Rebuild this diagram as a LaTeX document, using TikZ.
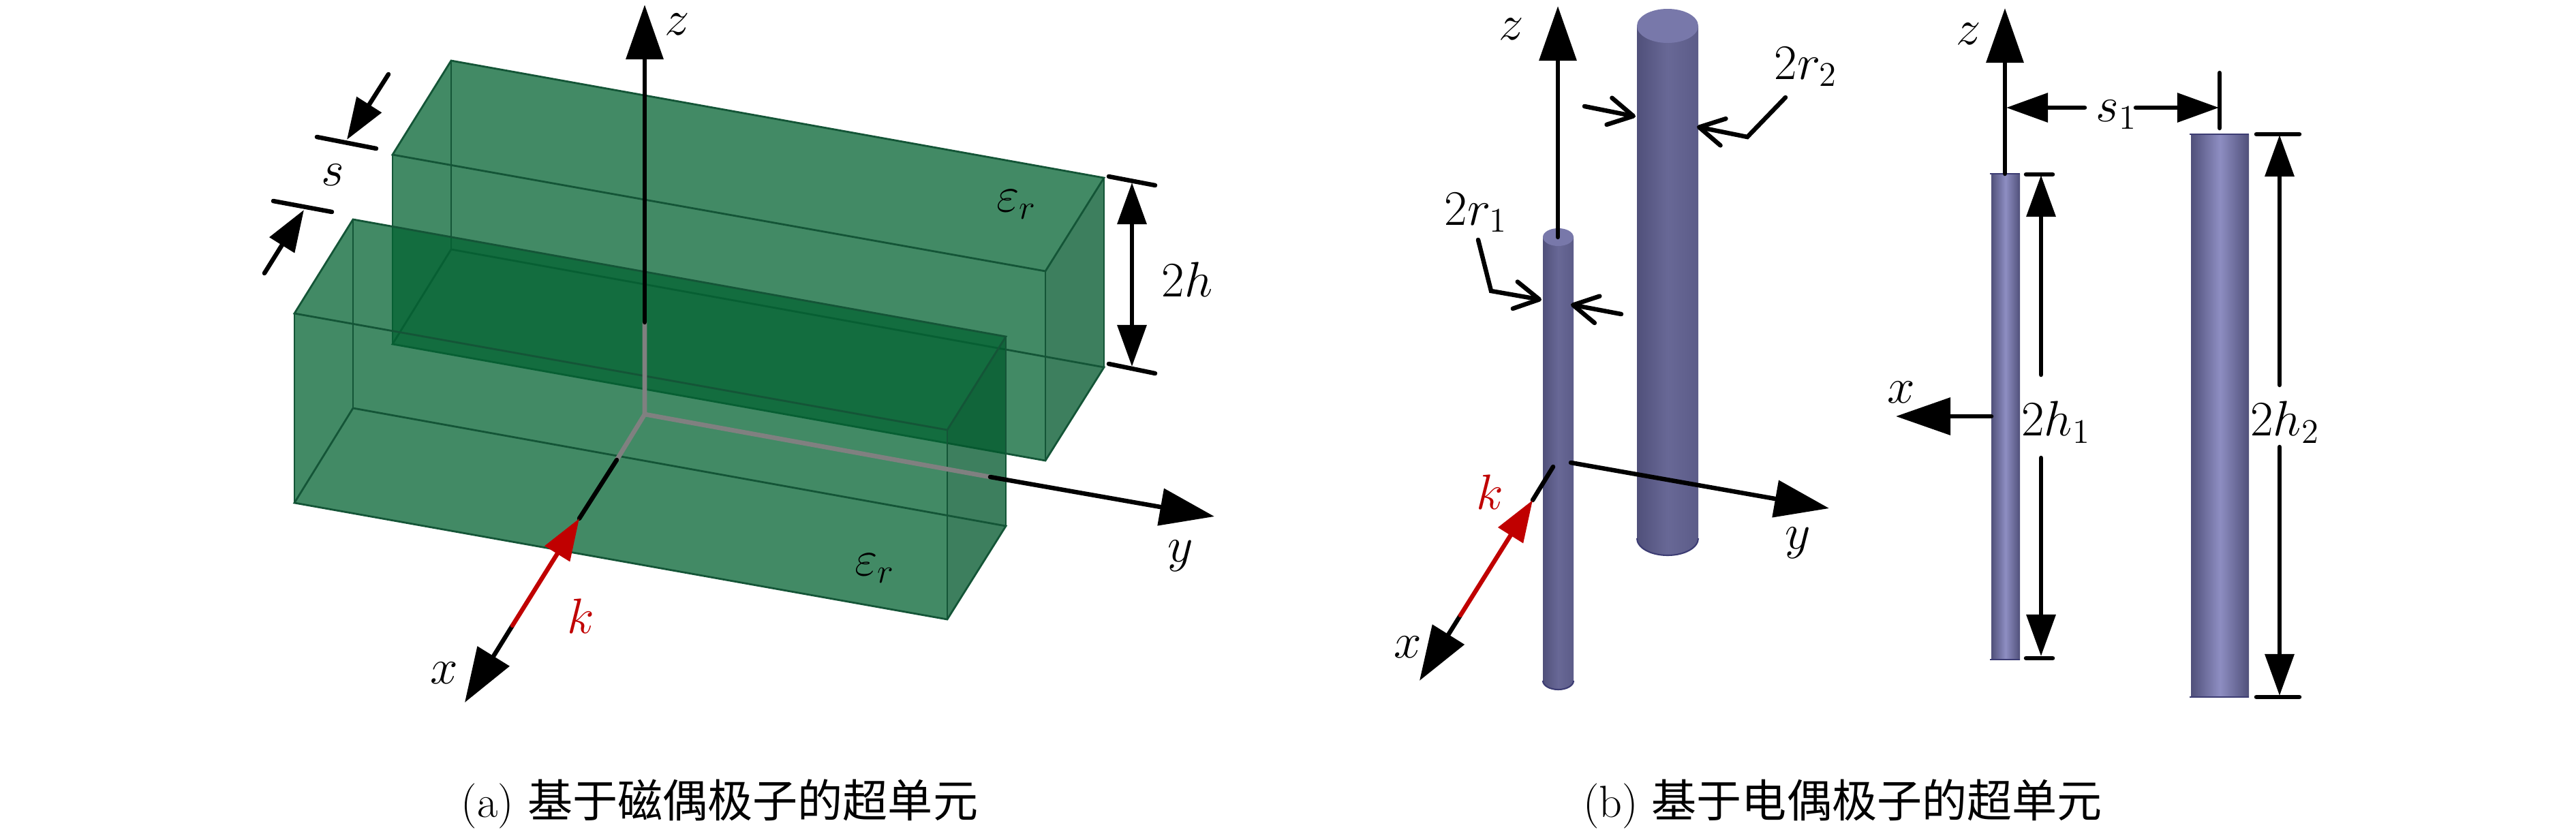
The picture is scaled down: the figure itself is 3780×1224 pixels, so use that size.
\documentclass[tikz,border=0pt]{standalone}
\usepackage{fontspec}
\usepackage{amsmath,amssymb}
\usepackage{tikz}
\usetikzlibrary{arrows.meta}
\newfontfamily\cjk{Noto Sans CJK SC}
\definecolor{dielgreen}{RGB}{3,99,50}
\definecolor{dieledge}{RGB}{20,85,55}
\definecolor{kred}{RGB}{192,0,0}
\definecolor{rodedge}{RGB}{80,80,122}
\definecolor{rodright}{RGB}{92,92,136}
\definecolor{rodmid}{RGB}{104,104,150}
\definecolor{rodlight}{RGB}{142,142,194}
\definecolor{rodcap}{RGB}{120,120,170}
\definecolor{rodline}{RGB}{60,60,115}
\tikzset{
  axisline/.style={line width=1.85pt,line cap=round,black},
  grayline/.style={line width=1.9pt,line cap=round,gray},
  bigtip/.style={-{Triangle[length=0.80cm,width=0.54cm]}},
  smalltip/.style={-{Triangle[length=0.61cm,width=0.42cm]}},
  barbtip/.style={-{Straight Barb[length=0.36cm,width=0.40cm,round]}},
  labl/.style={inner sep=0pt,font=\fontsize{19.5}{23}\selectfont},
  capt/.style={inner sep=0pt,font=\fontsize{18.8}{23}\selectfont},
  dieledgeline/.style={line width=0.8pt,dieledge},
  rodside/.style={left color=rodedge,right color=rodright,middle color=rodmid},
  rodflat/.style={left color=rodedge,right color=rodedge,middle color=rodlight}
}
% one box of dielectric, #1 and #2 shift it
\newcommand{\dielbox}[2]{
  \begin{scope}[shift={(#1,#2)}]
    \fill[dielgreen,opacity=0.75] (432,460) -- (518,322) -- (1476,494) -- (1476,772) -- (1390,909) -- (432,738) -- cycle;
    \fill[black,opacity=0.07] (1390,631) -- (1476,494) -- (1476,772) -- (1390,909) -- cycle;
    \draw[dieledgeline] (432,460) -- (518,322) -- (1476,494) -- (1390,631) -- cycle;
    \draw[dieledgeline] (432,738) -- (518,599) -- (1476,772) -- (1390,909) -- cycle;
    \draw[dieledgeline] (432,460) -- (432,738);
    \draw[dieledgeline] (518,322) -- (518,599);
    \draw[dieledgeline] (1476,494) -- (1476,772);
    \draw[dieledgeline] (1390,631) -- (1390,909);
  \end{scope}
}
% round rod seen from above: x left, x right, y top, y bottom, half height of the ellipse
\newcommand{\roundrod}[5]{
  \path[rodside] (#1,#3) -- (#1,#4) .. controls (#1,#4+0.55*#5) and ({(#1+#2)/2-0.28*(#2-#1)},#4+#5) .. ({(#1+#2)/2},#4+#5) .. controls ({(#1+#2)/2+0.28*(#2-#1)},#4+#5) and (#2,#4+0.55*#5) .. (#2,#4) -- (#2,#3) -- cycle;
  \draw[line width=0.6pt,rodline] (#1,#4) .. controls (#1,#4+0.55*#5) and ({(#1+#2)/2-0.28*(#2-#1)},#4+#5) .. ({(#1+#2)/2},#4+#5) .. controls ({(#1+#2)/2+0.28*(#2-#1)},#4+#5) and (#2,#4+0.55*#5) .. (#2,#4);
  \fill[rodcap] ({(#1+#2)/2},#3-#5) .. controls ({(#1+#2)/2+0.28*(#2-#1)},#3-#5) and (#2,#3-0.55*#5) .. (#2,#3) .. controls (#2,#3+0.55*#5) and ({(#1+#2)/2+0.28*(#2-#1)},#3+#5) .. ({(#1+#2)/2},#3+#5) .. controls ({(#1+#2)/2-0.28*(#2-#1)},#3+#5) and (#1,#3+0.55*#5) .. (#1,#3) .. controls (#1,#3-0.55*#5) and ({(#1+#2)/2-0.28*(#2-#1)},#3-#5) .. cycle;
}
% flat rod seen from the side
\newcommand{\flatrod}[4]{
  \path[rodflat] (#1,#3) rectangle (#2,#4);
  \draw[line width=0.7pt,rodline] (#1-2,#3) -- (#2,#3);
  \draw[line width=0.7pt,rodline] (#1-2,#4) -- (#2,#4);
}
\newcommand{\lablnode}[4]{\node[labl] (#1) at (#2,#3) {#4};}

\begin{document}
\begin{tikzpicture}[x=0.01cm,y=-0.01cm]
\useasboundingbox (0,0) rectangle (3780,1224);
% the two boxes of (a)
\dielbox{144}{-233}
\dielbox{0}{0}
% axes of (a)
\coordinate (oa) at (946,608);
\coordinate (zagray) at (946,473);
\coordinate (zatip) at (946,7);
\coordinate (xagray) at (905,675);
\coordinate (katip) at (850,761);
\coordinate (katail) at (752,918);
\coordinate (xatip) at (682,1031);
\coordinate (yagray) at (1453,700);
\coordinate (yatip) at (1782,758);
\draw[grayline] (zagray) -- (oa) -- (xagray);
\draw[grayline] (oa) -- (yagray);
\draw[axisline,bigtip] (zagray) -- (zatip);
\draw[axisline] (xagray) -- (katip);
\draw[axisline,bigtip] (katail) -- (xatip);
\draw[axisline,bigtip] (yagray) -- (yatip);
\draw[axisline,kred,smalltip] (katail) -- (katip);
% labels of (a)
\lablnode{zalab}{994}{36}{$z$}
\lablnode{xalab}{652}{988}{$x$}
\lablnode{yalab}{1732}{816}{$y$}
\node[labl,kred] (kalab) at (852,904) {$k$};
\lablnode{epsa}{1284}{834}{$\varepsilon_r$}
\lablnode{epsb}{1492}{300}{$\varepsilon_r$}
\lablnode{hlab}{1742}{410}{$2h$}
\lablnode{slab}{488}{257}{$s$}
% gap s
\coordinate (sa1) at (465,201);
\coordinate (sa2) at (552,218);
\coordinate (sa3) at (570,109);
\coordinate (sa4) at (509,205);
\coordinate (sb1) at (401,295);
\coordinate (sb2) at (487,311);
\coordinate (sb3) at (388,401);
\coordinate (sb4) at (446,308);
\draw[axisline] (sa1) -- (sa2);
\draw[axisline] (sb1) -- (sb2);
\draw[axisline,smalltip] (sa3) -- (sa4);
\draw[axisline,smalltip] (sb3) -- (sb4);
% height 2h
\coordinate (ha1) at (1627,259);
\coordinate (ha2) at (1695,272);
\coordinate (hb1) at (1627,534);
\coordinate (hb2) at (1695,548);
\coordinate (hc1) at (1661,268);
\coordinate (hc2) at (1661,538);
\draw[axisline] (ha1) -- (ha2);
\draw[axisline] (hb1) -- (hb2);
\draw[axisline,{Triangle[length=0.61cm,width=0.42cm]}-{Triangle[length=0.61cm,width=0.42cm]}] (hc1) -- (hc2);
% rods of (b), left view
\roundrod{2402}{2492}{38}{790}{25}
\roundrod{2264}{2309}{348}{999}{13}
% axes of (b)
\coordinate (zbtail) at (2286,348);
\coordinate (zbtip) at (2286,9);
\coordinate (ybtail) at (2305,679);
\coordinate (ybtip) at (2684,746);
\coordinate (xbtail) at (2279,685);
\coordinate (kbtip) at (2249,734);
\coordinate (kbtail) at (2143,903);
\coordinate (xbtip) at (2083,999);
\draw[axisline,bigtip] (zbtail) -- (zbtip);
\draw[axisline,bigtip] (ybtail) -- (ybtip);
\draw[axisline] (xbtail) -- (kbtip);
\draw[axisline,bigtip] (kbtail) -- (xbtip);
\draw[axisline,kred,smalltip] (kbtail) -- (kbtip);
\lablnode{zblab}{2218}{43}{$z$}
\lablnode{xblab}{2066}{950}{$x$}
\lablnode{yblab}{2638}{797}{$y$}
\node[labl,kred] (kblab) at (2186,722) {$k$};
% radius leaders
\coordinate (rb1) at (2325,156);
\coordinate (rb2) at (2400,171);
\coordinate (rb3) at (2620,143);
\coordinate (rb4) at (2564,201);
\coordinate (rb5) at (2490,186);
\coordinate (ra1) at (2169,352);
\coordinate (ra2) at (2188,427);
\coordinate (ra3) at (2262,440);
\coordinate (ra4) at (2379,461);
\coordinate (ra5) at (2305,447);
\draw[axisline,barbtip] (rb1) -- (rb2);
\draw[axisline,barbtip] (rb3) -- (rb4) -- (rb5);
\draw[axisline,barbtip] (ra1) -- (ra2) -- (ra3);
\draw[axisline,barbtip] (ra4) -- (ra5);
\lablnode{rlabb}{2650}{98}{$2r_2$}
\lablnode{rlaba}{2166}{312}{$2r_1$}
% rods of (b), side view
\flatrod{2922}{2964}{255}{968}
\flatrod{3215}{3300}{197}{1023}
% axes of the side view
\coordinate (zctail) at (2942,255);
\coordinate (zctip) at (2942,12);
\coordinate (xctail) at (2922,611);
\coordinate (xctip) at (2782,611);
\draw[axisline,bigtip] (zctail) -- (zctip);
\draw[axisline,bigtip] (xctail) -- (xctip);
\lablnode{zclab}{2889}{50}{$z$}
\lablnode{xclab}{2790}{576}{$x$}
% spacing s1
\coordinate (sc1) at (3059,158);
\coordinate (sc2) at (2944,158);
\coordinate (sc3) at (3134,158);
\coordinate (sc4) at (3256,158);
\coordinate (sc5) at (3257,107);
\coordinate (sc6) at (3257,188);
\draw[axisline,smalltip] (sc1) -- (sc2);
\draw[axisline,smalltip] (sc3) -- (sc4);
\draw[axisline] (sc5) -- (sc6);
\lablnode{sclab}{3106}{168}{$s_1$}
% height 2h1
\coordinate (hd1) at (2973,256);
\coordinate (hd2) at (3012,256);
\coordinate (hd3) at (2995,550);
\coordinate (hd4) at (2995,257);
\coordinate (hd5) at (2995,672);
\coordinate (hd6) at (2995,963);
\coordinate (hd7) at (2973,966);
\coordinate (hd8) at (3012,966);
\draw[axisline] (hd1) -- (hd2);
\draw[axisline] (hd7) -- (hd8);
\draw[axisline,smalltip] (hd3) -- (hd4);
\draw[axisline,smalltip] (hd5) -- (hd6);
\lablnode{hdlab}{3017}{620}{$2h_1$}
% height 2h2
\coordinate (he1) at (3311,197);
\coordinate (he2) at (3374,197);
\coordinate (he3) at (3345,565);
\coordinate (he4) at (3345,198);
\coordinate (he5) at (3345,656);
\coordinate (he6) at (3345,1021);
\coordinate (he7) at (3311,1023);
\coordinate (he8) at (3374,1023);
\draw[axisline] (he1) -- (he2);
\draw[axisline] (he7) -- (he8);
\draw[axisline,smalltip] (he3) -- (he4);
\draw[axisline,smalltip] (he5) -- (he6);
\lablnode{helab}{3353}{620}{$2h_2$}
% captions
\node[capt] (capa) at (1056,1180) {(a) {\cjk 基于磁偶极子的超单元}};
\node[capt] (capb) at (2704,1180) {(b) {\cjk 基于电偶极子的超单元}};
\end{tikzpicture}
\end{document}
